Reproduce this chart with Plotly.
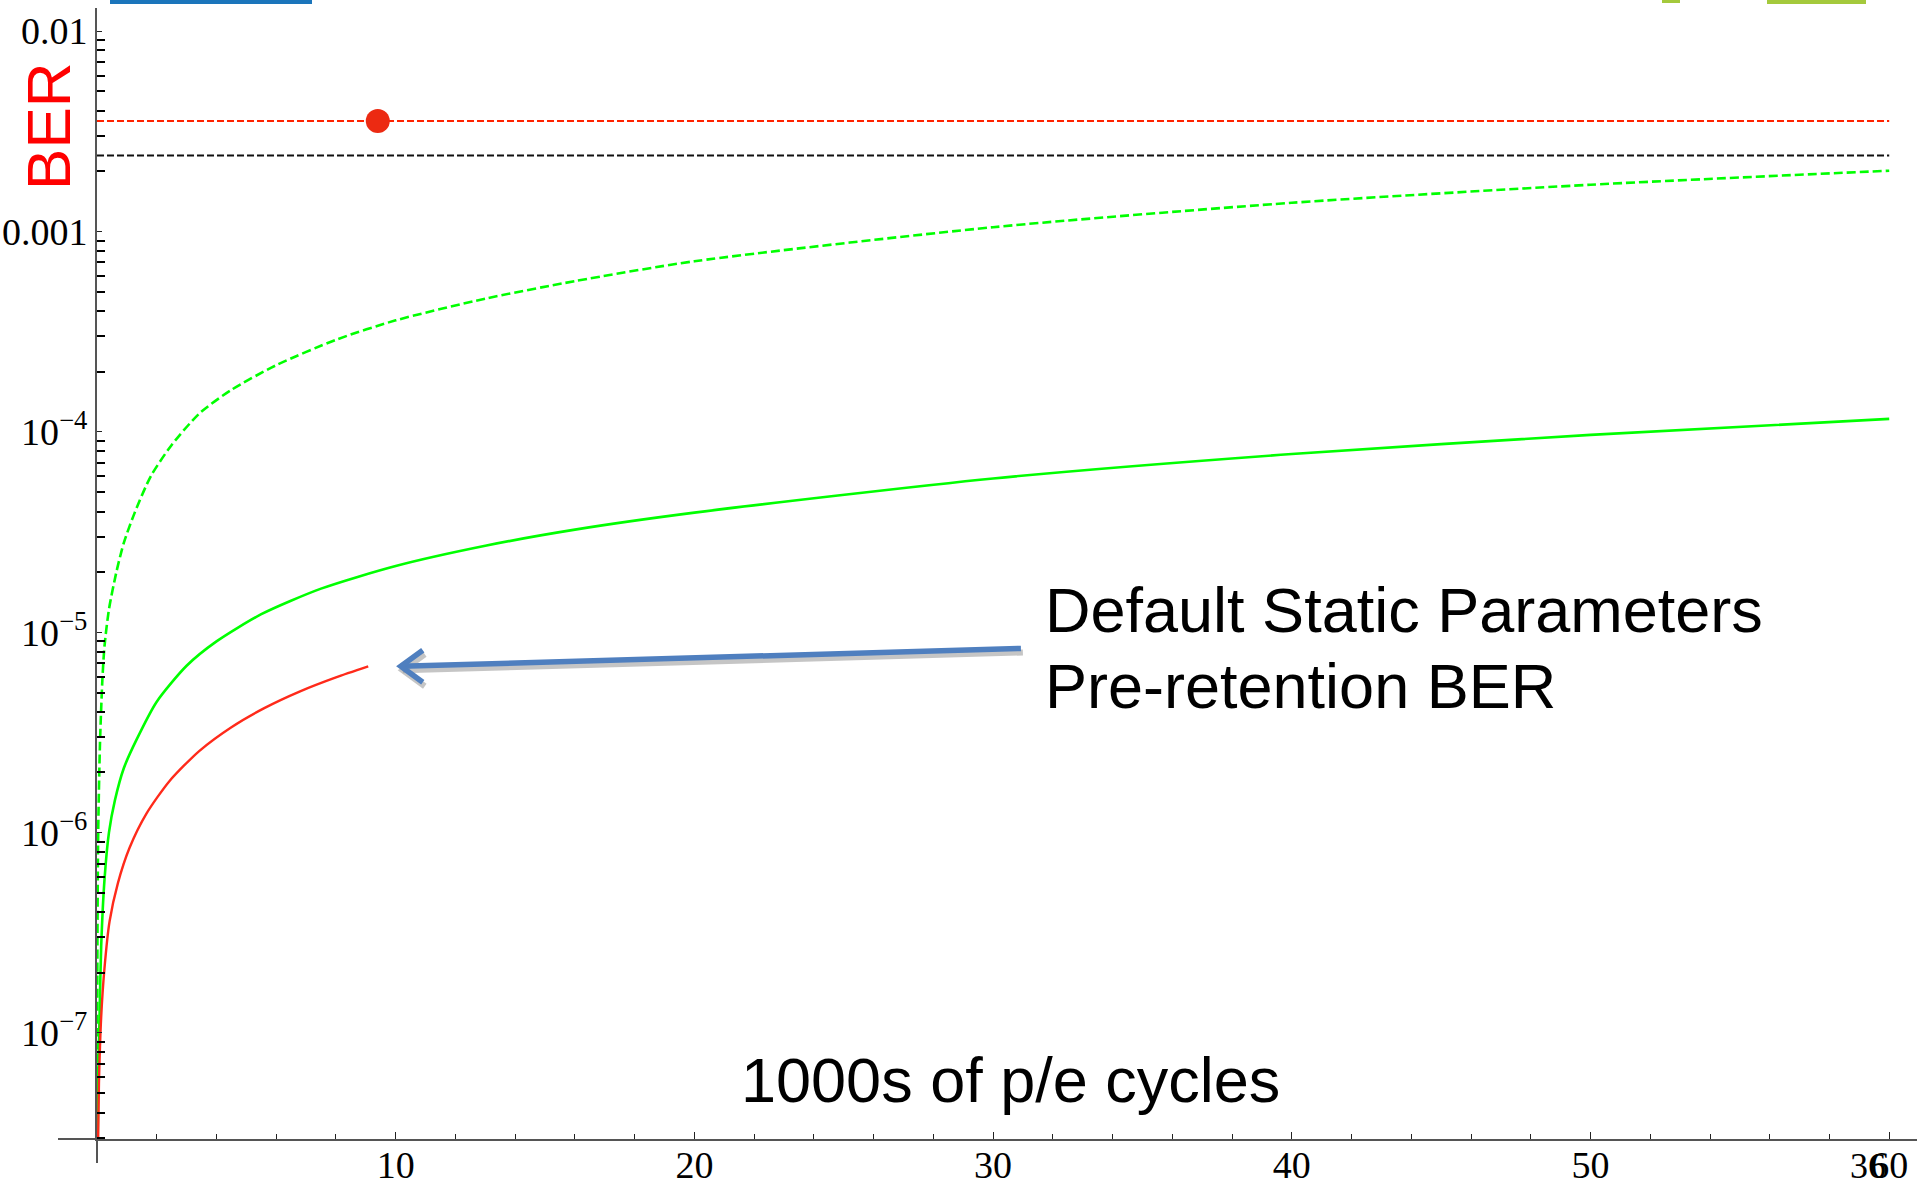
import plotly.graph_objects as go

# ---------------- data ----------------
# x = thousands of p/e cycles, y = BER
green_dash_x = [0.002, 0.006, 0.015, 0.04, 0.10, 0.18, 0.25, 0.40, 0.65, 0.90, 1.26, 1.8, 2.5,
                3.44, 4.5, 6.0, 8.0, 10.0, 13.0, 16.0, 20.0, 30.0, 40.0, 50.0, 60.0]
green_dash_y = [2.5e-8, 1.0e-7, 3.0e-7, 1.0e-6, 2.8e-6, 5.8e-6, 8.5e-6, 1.3e-5, 2.0e-5, 2.8e-5,
                3.94e-5, 6.0e-5, 8.6e-5, 1.24e-4, 1.62e-4, 2.15e-4, 2.88e-4, 3.6e-4, 4.62e-4,
                5.65e-4, 7.1e-4, 1.05e-3, 1.39e-3, 1.71e-3, 2.01e-3]

green_solid_x = [0.02, 0.04, 0.09, 0.14, 0.25, 0.40, 0.6, 0.9, 1.32, 2.0, 3.0, 4.0, 5.5, 7.5,
                 10.0, 13.0, 16.0, 20.0, 30.0, 40.0, 50.0, 60.0]
green_solid_y = [2.5e-8, 5.6e-8, 1.3e-7, 2.7e-7, 5.8e-7, 1.0e-6, 1.45e-6, 2.1e-6, 2.9e-6, 4.5e-6,
                 6.8e-6, 9.0e-6, 1.23e-5, 1.65e-5, 2.14e-5, 2.7e-5, 3.25e-5, 3.95e-5, 5.85e-5,
                 7.75e-5, 9.65e-5, 1.16e-4]

red_x = [0.03, 0.065, 0.14, 0.25, 0.42, 0.70, 1.09, 1.65, 2.43, 3.43, 4.5, 5.6, 6.8, 8.0, 9.08]
red_y = [2.5e-8, 5.6e-8, 1.2e-7, 2.1e-7, 3.6e-7, 5.6e-7, 8.4e-7, 1.24e-6, 1.81e-6, 2.56e-6,
         3.36e-6, 4.18e-6, 5.07e-6, 5.95e-6, 6.75e-6]

threshold_x = [0, 60]
red_threshold = 3.56e-3
black_threshold = 2.39e-3

dot_x = [9.4]
dot_y = [3.56e-3]

# arrow (tail -> tip), in data units
arrow_x = [30.93, 10.17]
arrow_y = [8.3e-6, 6.76e-6]

x_tickvals = [10, 20, 30, 40, 50, 60]
x_ticktext = ["10", "20", "30", "40", "50", "60"]
y_tickvals = [1e-7, 1e-6, 1e-5, 1e-4, 1e-3, 1e-2]
y_ticktext = ["10<sup>\u22127</sup>", "10<sup>\u22126</sup>", "10<sup>\u22125</sup>",
              "10<sup>\u22124</sup>", "0.001", "0.01"]

# ---------------- figure ----------------
fig = go.Figure()

GREEN = "#00ff00"

fig.add_trace(go.Scatter(x=threshold_x, y=[red_threshold] * 2, mode="lines",
                         line=dict(color="#ff2200", width=2, dash="7px,3px")))
fig.add_trace(go.Scatter(x=threshold_x, y=[black_threshold] * 2, mode="lines",
                         line=dict(color="#111111", width=2, dash="7px,3px")))
fig.add_trace(go.Scatter(x=green_dash_x, y=green_dash_y, mode="lines",
                         line=dict(color=GREEN, width=2.6, dash="9px,4px",
                                   shape="spline", smoothing=0.7)))
fig.add_trace(go.Scatter(x=green_solid_x, y=green_solid_y, mode="lines",
                         line=dict(color=GREEN, width=2.6, shape="spline", smoothing=0.7)))
fig.add_trace(go.Scatter(x=red_x, y=red_y, mode="lines",
                         line=dict(color="#ff2a1a", width=2.4, shape="spline", smoothing=0.7)))
fig.add_trace(go.Scatter(x=dot_x, y=dot_y, mode="markers",
                         marker=dict(size=24, color="#ec2a12", line=dict(width=0))))

# arrow: shadow, shaft and open chevron head
px_per_x = 29.87          # pixels per x unit
px_per_dec = 200.4        # pixels per decade


def shift(xs, ys, dx_px, dy_px):
    return ([x + dx_px / px_per_x for x in xs], [y * 10 ** (-dy_px / px_per_dec) for y in ys])


tip_x, tip_y = arrow_x[1], arrow_y[1]
head_x = [tip_x + 22 / px_per_x, tip_x, tip_x + 22 / px_per_x]
head_y = [tip_y * 10 ** (16 / px_per_dec), tip_y, tip_y * 10 ** (-16 / px_per_dec)]

sx, sy = shift(arrow_x, arrow_y, 2, 4)
hx, hy = shift(head_x, head_y, 2, 4)
for xs, ys in [(sx, sy), (hx, hy)]:
    fig.add_trace(go.Scatter(x=xs, y=ys, mode="lines",
                             line=dict(color="rgba(150,150,150,0.55)", width=6)))
fig.add_trace(go.Scatter(x=arrow_x, y=arrow_y, mode="lines",
                         line=dict(color="#4f7fbf", width=5.5)))
fig.add_trace(go.Scatter(x=head_x, y=head_y, mode="lines",
                         line=dict(color="#4f7fbf", width=5.5)))

# ---------------- axes ----------------
x_minor = [v for v in range(2, 61, 2) if v % 10 != 0]
y_minor = [k * 10 ** e for e in range(-8, -1) for k in range(2, 10)]

tickfont = dict(family="Liberation Serif", size=38, color="black")

fig.update_xaxes(type="linear", range=[0, 60.93], showline=True, linecolor="#555555",
                 linewidth=2, showgrid=False, zeroline=False, tickmode="array",
                 tickvals=x_tickvals, ticktext=x_ticktext, ticks="inside", ticklen=7,
                 tickwidth=1, tickcolor="#222222", tickfont=tickfont, automargin=False,
                 ticklabelstandoff=-9,
                 minor=dict(ticks="inside", ticklen=5, tickwidth=1, tickcolor="#222222",
                            tickmode="array", tickvals=x_minor, showgrid=False))
fig.update_yaxes(type="log", range=[-7.529, -1.885], showline=True, linecolor="#555555",
                 linewidth=2, showgrid=False, zeroline=False, tickmode="array",
                 tickvals=y_tickvals, ticktext=y_ticktext, ticks="inside", ticklen=5,
                 tickwidth=1, tickcolor="#222222", tickfont=tickfont, automargin=False,
                 minor=dict(ticks="inside", ticklen=8, tickwidth=2, tickcolor="#000000",
                            tickmode="array", tickvals=y_minor, showgrid=False))

# ---------------- texts ----------------
sans = "Liberation Sans"
annotations = [
    dict(text="BER", textangle=-90, x=-0.0264, y=0.8957, xref="paper", yref="paper",
         xanchor="center", yanchor="middle", showarrow=False,
         font=dict(family=sans, size=62, color="#ff0000")),
    dict(text="Default Static Parameters", x=0.5196, y=(1139 - 610) / 1131, xref="paper",
         yref="paper", xanchor="left", yanchor="middle", showarrow=False,
         font=dict(family=sans, size=63, color="black")),
    dict(text="Pre-retention BER", x=0.5196, y=(1139 - 686) / 1131, xref="paper",
         yref="paper", xanchor="left", yanchor="middle", showarrow=False,
         font=dict(family=sans, size=63, color="black")),
    dict(text="1000s of p/e cycles", x=0.502, y=(1139 - 1080) / 1131, xref="paper",
         yref="paper", xanchor="center", yanchor="middle", showarrow=False,
         font=dict(family=sans, size=63, color="black")),
    dict(text="36", x=(1868 - 97) / 1820, y=(1139 - 1166) / 1131, xref="paper", yref="paper",
         xanchor="center", yanchor="middle", showarrow=False,
         font=dict(family="Liberation Serif", size=36, color="black")),
]

shapes = [
    # axis overhangs (Mathematica-style crossing axes)
    dict(type="line", xref="paper", yref="paper", x0=(58 - 97) / 1820, x1=0, y0=0, y1=0,
         line=dict(color="#555555", width=2)),
    dict(type="line", xref="paper", yref="paper", x0=0, x1=0, y0=0, y1=(1139 - 1163) / 1131,
         line=dict(color="#555555", width=2)),
    # cropped slide logos at the top edge
    dict(type="rect", xref="paper", yref="paper", x0=(110 - 97) / 1820, x1=(312 - 97) / 1820,
         y0=(1139 - 4) / 1131, y1=(1139 + 1) / 1131, line=dict(width=0), fillcolor="#1b75bb"),
    dict(type="rect", xref="paper", yref="paper", x0=(1662 - 97) / 1820, x1=(1680 - 97) / 1820,
         y0=(1139 - 3) / 1131, y1=(1139 + 1) / 1131, line=dict(width=0), fillcolor="#a4c93c"),
    dict(type="rect", xref="paper", yref="paper", x0=(1767 - 97) / 1820, x1=(1866 - 97) / 1820,
         y0=(1139 - 4) / 1131, y1=(1139 + 1) / 1131, line=dict(width=0), fillcolor="#a4c93c"),
]

fig.update_layout(width=1917, height=1181, margin=dict(l=97, r=0, t=8, b=42),
                  paper_bgcolor="white", plot_bgcolor="white", showlegend=False,
                  annotations=annotations, shapes=shapes)

fig.write_html("out.html", config={"displayModeBar": False},
               post_script="document.body.style.margin='0';")
